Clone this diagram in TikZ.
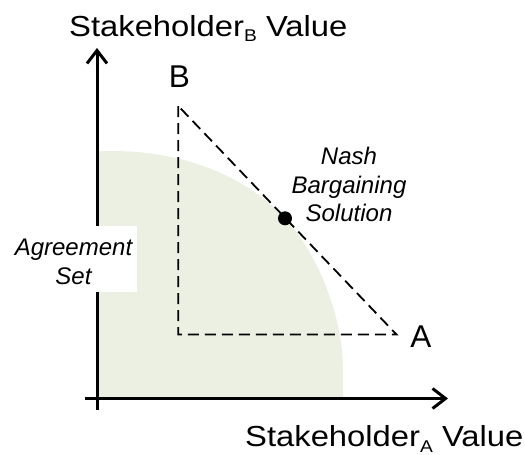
\documentclass[tikz,border=0pt]{standalone}
\usepackage{fontspec}
\setmainfont{Liberation Sans}
\usetikzlibrary{arrows.meta}
\definecolor{agreefill}{RGB}{236,240,227}
\newcommand{\axistext}[2]{\scalebox{1.13}[1]{#1\raisebox{-5.7pt}{\fontsize{17}{17}\selectfont #2} Value}}
\begin{document}
\begin{tikzpicture}[x=1pt,y=-1pt,
  axis/.style={line width=3pt, -{Straight Barb[length=13pt,width=20pt]}},
  frontier/.style={draw=black, line width=1.8pt, dash pattern=on 11pt off 6pt},
  axislabel/.style={font=\fontsize{29}{29}\selectfont, anchor=base west, inner sep=0pt},
  ptlabel/.style={font=\fontsize{31.5}{31.5}\selectfont, anchor=base, inner sep=0pt},
  note/.style={font=\itshape\fontsize{24}{28.3}\selectfont, align=center, inner sep=0pt},
]
\useasboundingbox (0,0) rectangle (525,455);
% agreement set
\fill[agreefill] (97,151) -- (112,151) .. controls (182,151) and (243.6,174.6) .. (285,218)
  .. controls (312.6,247) and (343,310) .. (343,370) -- (343,398) -- (97,398) -- cycle;
% axes
\coordinate (xstart) at (85,398.5);
\coordinate (xend) at (448,398.5);
\coordinate (ystart) at (97,410);
\coordinate (yend) at (97,48);
\draw[axis] (ystart) -- (yend);
\draw[axis] (xstart) -- (xend);
% triangle
\coordinate (B) at (178.3,106);
\coordinate (C) at (178.3,334.5);
\coordinate (A) at (396.5,334.5);
\draw[frontier] (B) -- (C) -- (A) -- cycle;
% Nash bargaining solution
\node[circle, fill=black, minimum size=14pt, inner sep=0pt] (nbs) at (285,218.3) {};
\node[note] (nbstext) at (349,184.5) {Nash\\Bargaining\\Solution};
% agreement set label
\node[fill=white, minimum width=127pt, minimum height=66pt, inner sep=0pt] (agreebox) at (73.5,259) {};
\node[note] (agreetext) at (73.5,262) {Agreement\\Set};
% point labels
\node[ptlabel] (labB) at (179.5,87.3) {B};
\node[ptlabel] (labA) at (421,347.5) {A};
% axis labels
\node[axislabel] (ylabel) at (69,36) {\axistext{Stakeholder}{B}};
\node[axislabel] (xlabel) at (245,446.5) {\axistext{Stakeholder}{A}};
\end{tikzpicture}
\end{document}
